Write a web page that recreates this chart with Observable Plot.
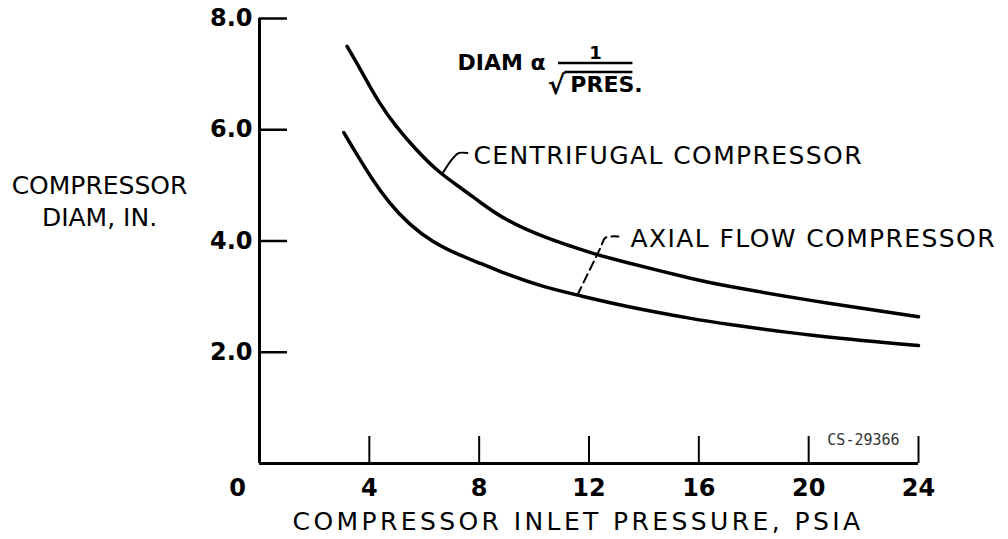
<!DOCTYPE html>
<html><head><meta charset="utf-8">
<script src="https://cdn.jsdelivr.net/npm/d3@7"></script>
<script src="https://cdn.jsdelivr.net/npm/@observablehq/plot@0.6"></script>
<style>html,body{margin:0;padding:0;background:#fff}</style>
</head><body><div id="chart"></div>
<script>
// Compressor inlet pressure (psia) vs compressor diameter (in.)
const centrifugalP = [3.19, 3.74, 4.34, 4.95, 5.68, 6.53, 7.35, 8.05, 8.90, 10.35, 12.30, 13.15, 16.0, 16.8, 20.0, 24.0];
const centrifugalD = [7.50, 7.03, 6.49, 6.07, 5.65, 5.23, 4.95, 4.69, 4.39, 4.06, 3.75, 3.64, 3.29, 3.21, 2.93, 2.64];
const axialP = [3.07, 3.50, 4.10, 4.71, 5.44, 6.29, 7.35, 8.05, 8.90, 10.35, 11.57, 13.15, 16.0, 16.8, 20.0, 24.0];
const axialD = [5.95, 5.59, 5.11, 4.69, 4.30, 3.98, 3.73, 3.60, 3.42, 3.17, 3.03, 2.84, 2.58, 2.52, 2.30, 2.12];

const xTicks = [4, 8, 12, 16, 20, 24];
const yTicks = [2, 4, 6, 8];
const xTitle = "COMPRESSOR INLET PRESSURE, PSIA";
const yTitle = "COMPRESSOR\nDIAM, IN.";
const centrifugalLabel = "CENTRIFUGAL COMPRESSOR";
const axialLabel = "AXIAL FLOW COMPRESSOR";
const drawingNo = "CS-29366";

// leader lines (pressure, diameter)
const centrifugalLeaderP = [6.66, 7.03, 7.25, 7.57];
const centrifugalLeaderD = [5.21, 5.48, 5.58, 5.58];
const axialLeaderP = [11.58, 12.42, 12.6, 13.07];
const axialLeaderD = [3.03, 3.88, 4.06, 4.08];

const toRows = (xs, ys) => xs.map((x, i) => ({x, y: ys[i]}));
const centrifugal = toRows(centrifugalP, centrifugalD);
const axial = toRows(axialP, axialD);
const cLeader = toRows(centrifugalLeaderP, centrifugalLeaderD);
const aLeader = toRows(axialLeaderP, axialLeaderD);

const chart = Plot.plot({
  width: 1008,
  height: 539,
  marginLeft: 259,
  marginRight: 90,
  marginTop: 18,
  marginBottom: 76,
  style: {fontFamily: "DejaVu Sans", background: "#fff", color: "#000", overflow: "visible"},
  x: {domain: [0, 24]},
  y: {domain: [0, 8]},
  marks: [
    Plot.ruleX([0], {y1: 0, y2: 8, strokeWidth: 3}),
    Plot.ruleY([0], {x1: 0, x2: 24, strokeWidth: 3}),
    Plot.axisX(xTicks, {tickSize: -27, strokeWidth: 2, fill: "none", label: null}),
    Plot.axisY(yTicks, {tickSize: -28, strokeWidth: 2.5, fill: "none", label: null}),
    Plot.axisX(xTicks, {tickSize: 0, tickPadding: 15, fontSize: 24, fontWeight: "bold", label: null}),
    Plot.axisX([0], {tickSize: 0, tickPadding: 15, dx: -22, fontSize: 24, fontWeight: "bold", label: null}),
    Plot.axisY(yTicks, {tickSize: 0, tickPadding: 7, tickFormat: d => d.toFixed(1), fontSize: 24, fontWeight: "bold", label: null}),
    Plot.line(centrifugal, {x: "x", y: "y", curve: "basis", strokeWidth: 3.5}),
    Plot.line(axial, {x: "x", y: "y", curve: "basis", strokeWidth: 3.5}),
    Plot.line(cLeader, {x: "x", y: "y", strokeWidth: 2, curve: "catmull-rom"}),
    Plot.line(aLeader, {x: "x", y: "y", strokeWidth: 2, strokeDasharray: "9,5", curve: "catmull-rom"}),
    Plot.text([centrifugalLabel], {x: 7.79, y: 5.53, text: d => d, textAnchor: "start", fontSize: 25}),
    Plot.text([axialLabel], {x: 13.51, y: 4.04, text: d => d, textAnchor: "start", fontSize: 25}),
    Plot.text([xTitle], {x: 11.6, frameAnchor: "bottom", lineAnchor: "middle", dy: 58, text: d => d, fontSize: 25}),
    Plot.text([yTitle], {y: 4.74, frameAnchor: "left", textAnchor: "middle", dx: -160, text: d => d, fontSize: 25, lineHeight: 1.28}),
    Plot.text([drawingNo], {x: 20.68, y: 0.42, text: d => d, textAnchor: "start", fontSize: 15, fontFamily: "DejaVu Sans Mono", fill: "#333"}),
    // formula: DIAM α 1/√PRES.
    Plot.text(["DIAM α"], {x: 10.42, y: 7.2, text: d => d, textAnchor: "end", fontSize: 22, fontWeight: "bold"}),
    Plot.ruleY([7.2], {x1: 10.89, x2: 13.6, strokeWidth: 2.5}),
    Plot.text(["1"], {x: 12.24, y: 7.37, text: d => d, fontSize: 18, fontWeight: "bold"}),
    Plot.ruleY([7.04], {x1: 11.12, x2: 13.6, strokeWidth: 2.5}),
    Plot.text(["√"], {x: 10.5, y: 6.79, text: d => d, textAnchor: "start", fontSize: 26, fontWeight: "bold"}),
    Plot.text(["PRES."], {x: 11.32, y: 6.8, text: d => d, textAnchor: "start", fontSize: 22, fontWeight: "bold"})
  ]
});
d3.select(chart).selectAll("text").each(function () {
  const t = this.textContent;
  if (t === xTitle) this.style.letterSpacing = "3.4px";
  else if (t === centrifugalLabel || t === axialLabel) this.style.letterSpacing = "1.4px";
});
document.getElementById("chart").appendChild(chart);
</script>
</body></html>
